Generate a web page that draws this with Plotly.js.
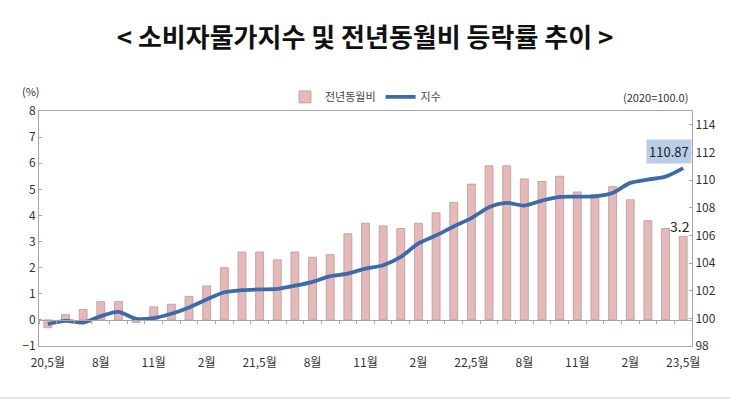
<!DOCTYPE html>
<html>
<head>
<meta charset="utf-8">
<script src="https://cdn.plot.ly/plotly-3.0.1.min.js"></script>
<style>
  html, body { margin: 0; padding: 0; background: #fff; }
  #chart { width: 730px; height: 401px; }
</style>
</head>
<body>
<div id="chart"></div>
<script>
const months = [
    "20.05", "20.06", "20.07", "20.08", "20.09", "20.10", "20.11", "20.12",
    "21.01", "21.02", "21.03", "21.04", "21.05", "21.06", "21.07", "21.08",
    "21.09", "21.10", "21.11", "21.12", "22.01", "22.02", "22.03", "22.04",
    "22.05", "22.06", "22.07", "22.08", "22.09", "22.10", "22.11", "22.12",
    "23.01", "23.02", "23.03", "23.04", "23.05",
];

// 전년동월비 (%)
const yoyRate = [
    -0.3, 0.2, 0.4, 0.7, 0.7, -0.1, 0.5, 0.6,
    0.9, 1.3, 2.0, 2.6, 2.6, 2.3, 2.6, 2.4,
    2.5, 3.3, 3.7, 3.6, 3.5, 3.7, 4.1, 4.5,
    5.2, 5.9, 5.9, 5.4, 5.3, 5.5, 4.9, 4.8,
    5.1, 4.6, 3.8, 3.5, 3.2,
];

// 지수 (2020=100.0)
const cpiIndex = [
    99.59, 99.82, 99.70, 100.16, 100.47, 99.97, 100.02, 100.33,
    100.79, 101.37, 101.89, 102.04, 102.09, 102.13, 102.36, 102.64,
    103.05, 103.24, 103.60, 103.84, 104.44, 105.42, 106.00, 106.65,
    107.25, 108.04, 108.35, 108.16, 108.52, 108.79, 108.81, 108.83,
    109.07, 109.80, 110.04, 110.25, 110.87,
];

const tickMonths = ["20.05", "20.08", "20.11", "21.02", "21.05", "21.08", "21.11",
    "22.02", "22.05", "22.08", "22.11", "23.02", "23.05"];
const tickLabels = ["20,5월", "8월", "11월", "2월", "21,5월", "8월", "11월",
    "2월", "22,5월", "8월", "11월", "2월", "23,5월"];

const font = "'Noto Sans CJK KR', 'Noto Sans', sans-serif";
const axisColor = "#a6a6a6";

const bars = {
    name: "전년동월비",
    x: months,
    y: yoyRate,
    type: "bar",
    yaxis: "y",
    marker: {
        color: "#e6b9b8",
        line: { color: "#b79a9a", width: 0.8 },
    },
    hoverinfo: "skip",
};

const indexLine = {
    name: "지수",
    x: months,
    y: cpiIndex,
    type: "scatter",
    mode: "lines",
    yaxis: "y2",
    line: { color: "#3d6aa8", width: 3.8, shape: "spline", smoothing: 0.8 },
    hoverinfo: "skip",
};

// invisible helper so the zero-line axis (x2) gets its own range
const zeroAxisHelper = {
    x: [-0.5, months.length - 0.5],
    y: [0, 0],
    xaxis: "x2",
    yaxis: "y",
    mode: "lines",
    line: { width: 0 },
    showlegend: false,
    hoverinfo: "skip",
};

const layout = {
    width: 730,
    height: 401,
    margin: { l: 39, r: 38, t: 111, b: 55 },
    paper_bgcolor: "#fff",
    plot_bgcolor: "#fff",
    font: { family: font, size: 12, color: "#333" },
    title: {
        text: "< 소비자물가지수 및 전년동월비 등락률 추이 >",
        font: { family: font, size: 26, color: "#111", weight: 700 },
        x: 0.5,
        xanchor: "center",
        y: 1 - 38 / 401,
        yanchor: "middle",
    },
    bargap: 0.55,
    showlegend: true,
    legend: {
        orientation: "h",
        x: 0.5,
        xanchor: "center",
        y: 1.06,
        yanchor: "middle",
        bgcolor: "rgba(0,0,0,0)",
        font: { family: font, size: 11, color: "#444" },
        itemwidth: 30,
        traceorder: "normal",
    },
    xaxis: {
        type: "category",
        tickvals: tickMonths,
        ticktext: tickLabels,
        ticks: "",
        ticklabelstandoff: 6,
        showline: true,
        mirror: true,
        linecolor: axisColor,
        linewidth: 1,
        showgrid: false,
        tickfont: { family: font, size: 12, color: "#333" },
        fixedrange: true,
    },
    xaxis2: {
        overlaying: "x",
        anchor: "free",
        position: 1 / 9,
        range: [-0.5, months.length - 0.5],
        tick0: 0.5,
        dtick: 1,
        ticks: "outside",
        ticklen: 3,
        tickcolor: axisColor,
        showticklabels: false,
        showline: true,
        linecolor: axisColor,
        linewidth: 1,
        showgrid: false,
        zeroline: false,
    },
    yaxis: {
        range: [-1, 8],
        dtick: 1,
        ticks: "inside",
        ticklen: 3,
        tickcolor: axisColor,
        showline: true,
        linecolor: axisColor,
        showgrid: false,
        zeroline: false,
        tickfont: { family: font, size: 12, color: "#333" },
        fixedrange: true,
    },
    yaxis2: {
        overlaying: "y",
        side: "right",
        range: [98, 115],
        tickvals: [98, 100, 102, 104, 106, 108, 110, 112, 114],
        ticks: "inside",
        ticklen: 3,
        tickcolor: axisColor,
        showline: true,
        linecolor: axisColor,
        showgrid: false,
        zeroline: false,
        tickfont: { family: font, size: 12, color: "#333" },
        fixedrange: true,
    },
    annotations: [
        {
            text: "(%)", xref: "paper", yref: "paper",
            x: -0.012, y: 1.085, xanchor: "center", yanchor: "middle",
            showarrow: false, font: { size: 11, color: "#333" },
        },
        {
            text: "(2020=100.0)", xref: "paper", yref: "paper",
            x: 0.997, y: 1.06, xanchor: "right", yanchor: "middle",
            showarrow: false, font: { size: 11, color: "#333" },
        },
        {
            text: cpiIndex[cpiIndex.length - 1].toFixed(2),
            xref: "paper", yref: "y2",
            x: 1, y: 112.05, xanchor: "right", yanchor: "middle",
            showarrow: false, bgcolor: "#b9cde5",
            borderpad: 2,
            font: { size: 13, color: "#222" },
        },
        {
            text: yoyRate[yoyRate.length - 1].toFixed(1),
            xref: "paper", yref: "y",
            x: 1, y: 3.58, xanchor: "right", yanchor: "middle",
            showarrow: false,
            font: { size: 14, color: "#222" },
        },
    ],
    shapes: [
        {
            type: "line", xref: "paper", yref: "paper",
            x0: -39 / 653, x1: 691 / 653, y0: -52 / 235, y1: -52 / 235,
            line: { color: "#c8c8c8", width: 1 },
        },
    ],
};

Plotly.newPlot("chart", [bars, indexLine, zeroAxisHelper], layout, { staticPlot: true });
</script>
</body>
</html>
